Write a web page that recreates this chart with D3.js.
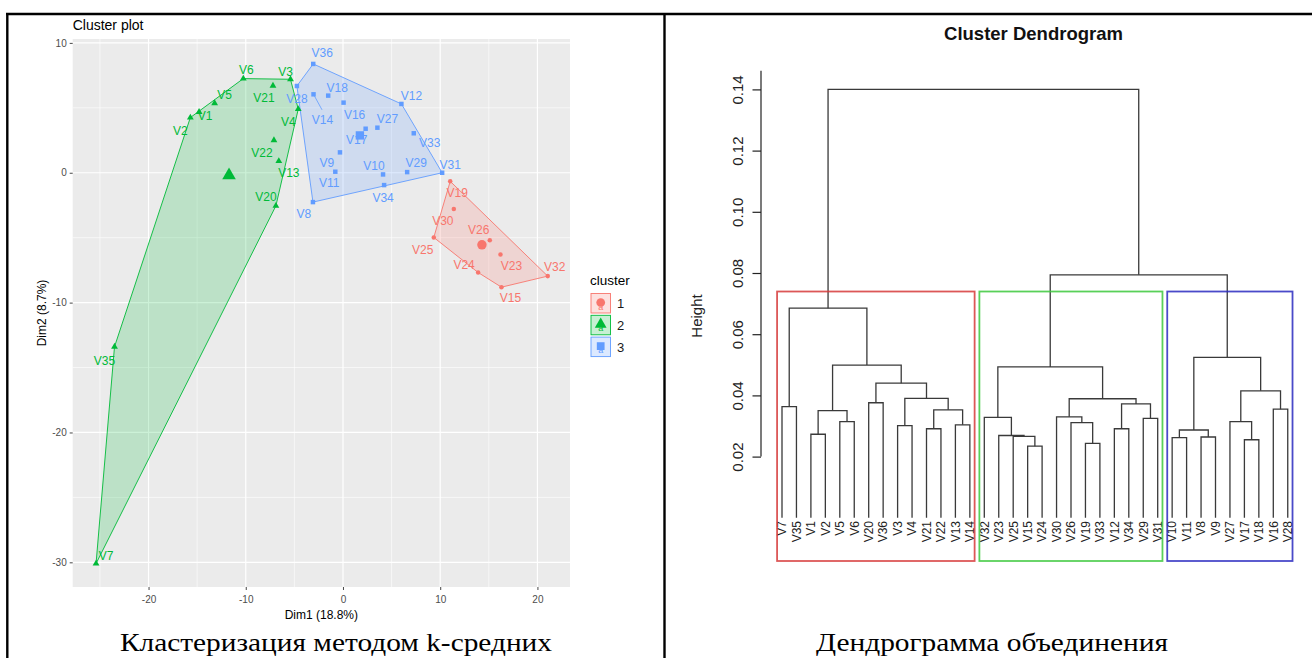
<!DOCTYPE html>
<html><head><meta charset="utf-8">
<script src="https://cdn.jsdelivr.net/npm/d3@7"></script>
<style>body{margin:0;background:#fff}svg{display:block}</style>
</head><body>
<svg id="c" width="1312" height="658"></svg>
<script>
// ---------- k-means cluster plot data ----------
const pointNames = ["V1","V2","V3","V4","V5","V6","V7","V8","V9","V10","V11","V12","V13","V14","V15","V16","V17","V18",
  "V19","V20","V21","V22","V23","V24","V25","V26","V27","V28","V29","V30","V31","V32","V33","V34","V35","V36"];
const pointDim1 = [-14.8,-15.7,-5.4,-4.6,-13.2,-10.25,-25.4,-3.09,-0.31,4.12,-0.79,6.01,-6.6,-3.03,16.3,0.06,2.33,-1.52,
  11.03,-6.9,-7.2,-7.1,16.2,13.9,9.34,15.1,3.54,-4.74,6.6,11.4,10.2,21.06,7.28,4.23,-23.5,-3.06];
const pointDim2 = [4.68,4.25,7.2,4.9,5.35,7.25,-30.1,-2.26,1.57,-0.13,0.08,5.3,0.9,6.04,-8.81,5.4,3.39,5.94,
  -0.66,-2.55,6.7,2.5,-6.3,-7.68,-4.98,-5.19,3.47,6.68,0.05,-2.8,0.0,-7.96,3.04,-0.95,-13.4,8.38];
const pointCluster = [2,2,2,2,2,2,2,3,3,3,3,3,2,3,1,3,3,3,1,2,2,2,1,1,1,1,3,3,3,1,3,1,3,3,2,3];
const clusterIds = [1,2,3];
const clusterColors = ["#F8766D","#00BA38","#619CFF"];
const dim1Ticks = [-20,-10,0,10,20];
const dim1Minor = [-25,-15,-5,5,15];
const dim2Ticks = [-30,-20,-10,0,10];
const dim2Minor = [-25,-15,-5,5];
// label offsets (px) used to mimic the repelled labels
const labelNudge = {V6:[3,-9],V3:[-5,-8],V21:[-9,12],V5:[10,-9],V1:[6,4],V2:[-10,13],V4:[-10,13],V22:[-12,12],V13:[10,12],
  V20:[-10,-9],V35:[-10,14],V7:[10,-8],V36:[9,-11],V28:[0,13],V14:[9,25],V18:[9,-8],V16:[11,12],V27:[10,-9],V17:[-9,11],
  V12:[10,-8],V33:[16,9],V9:[-13,10],V11:[-6,11],V10:[-9,-9],V29:[9,-9],V31:[8,-8],V34:[-1,13],V8:[-9,12],
  V19:[7,11],V30:[-11,12],V25:[-11,12],V26:[-11,-10],V24:[-14,-8],V23:[11,11],V32:[7,-9],V15:[9,11]};

// ---------- dendrogram data ----------
const leafOrder = ["V7","V35","V1","V2","V5","V6","V20","V36","V3","V4","V21","V22","V13","V14",
  "V32","V23","V25","V15","V24","V30","V26","V19","V33","V12","V34","V29","V31",
  "V10","V11","V8","V9","V27","V17","V18","V16","V28"];
// merge children: leaf name or index of an earlier merge
const mergeLeft  = ["V7","V1","V5",1,"V20","V3","V21","V13",6,5,4,3,0,"V15","V25","V23","V32","V19","V26","V30","V12","V29",20,19,16,"V10","V8",25,"V17","V27","V16",29,27,24,12];
const mergeRight = ["V35","V2","V6",2,"V36","V4","V22","V14",7,8,9,10,11,"V24",13,14,15,"V33",17,18,"V34","V31",21,22,23,"V11","V9",26,"V18",28,"V28",30,31,32,33];
const mergeHeight = [0.0363,0.0273,0.0314,0.0350,0.0376,0.0301,0.0291,0.0304,0.0353,0.0390,0.0440,0.0499,0.0685,
  0.0234,0.0266,0.0269,0.0328,0.0243,0.0311,0.0330,0.0291,0.0325,0.0372,0.0389,0.0493,
  0.0262,0.0264,0.0287,0.0255,0.0314,0.0355,0.0415,0.0524,0.0794,0.1400];
const heightTicks = [0.02,0.04,0.06,0.08,0.10,0.12,0.14];
const kClusters = 3;
const rectColors = ["#D63A3A","#3CC83C","#2A2AC0"];

const svg = d3.select("#c");

// ---------- table frame ----------
svg.append("line").attr("x1",6).attr("x2",1312).attr("y1",14).attr("y2",14).attr("stroke","#000").attr("stroke-width",2.4);
svg.append("line").attr("x1",7.3).attr("x2",7.3).attr("y1",13).attr("y2",658).attr("stroke","#000").attr("stroke-width",2.4);
svg.append("line").attr("x1",664.5).attr("x2",664.5).attr("y1",13).attr("y2",658).attr("stroke","#000").attr("stroke-width",2.4);

// ---------- left: cluster plot ----------
const P = {l:72.7, r:570, t:39, b:587};
const x = d3.scaleLinear().domain([-27.8,23.35]).range([P.l,P.r]);
const y = d3.scaleLinear().domain([-31.9,10.3]).range([P.b,P.t]);
const L = svg.append("g");
L.append("rect").attr("x",P.l).attr("y",P.t).attr("width",P.r-P.l).attr("height",P.b-P.t).attr("fill","#EBEBEB");
dim1Minor.forEach(v=>L.append("line").attr("x1",x(v)).attr("x2",x(v)).attr("y1",P.t).attr("y2",P.b).attr("stroke","#fff").attr("stroke-width",0.6));
dim2Minor.forEach(v=>L.append("line").attr("y1",y(v)).attr("y2",y(v)).attr("x1",P.l).attr("x2",P.r).attr("stroke","#fff").attr("stroke-width",0.6));
dim1Ticks.forEach(v=>L.append("line").attr("x1",x(v)).attr("x2",x(v)).attr("y1",P.t).attr("y2",P.b).attr("stroke","#fff").attr("stroke-width",1.2));
dim2Ticks.forEach(v=>L.append("line").attr("y1",y(v)).attr("y2",y(v)).attr("x1",P.l).attr("x2",P.r).attr("stroke","#fff").attr("stroke-width",1.2));

const xAxis = d3.axisBottom(x).tickValues(dim1Ticks).tickSize(3).tickPadding(6).tickFormat(d3.format("d"));
const gx = L.append("g").attr("transform",`translate(0,${P.b})`).call(xAxis);
const yAxis = d3.axisLeft(y).tickValues(dim2Ticks).tickSize(3).tickPadding(3).tickFormat(d3.format("d"));
const gy = L.append("g").attr("transform",`translate(${P.l},0)`).call(yAxis);
[gx,gy].forEach(g=>{g.select(".domain").remove();
  g.selectAll(".tick line").attr("stroke","#333").attr("stroke-width",0.9);
  g.selectAll(".tick text").attr("fill","#4D4D4D").style("font-family","Liberation Sans, Arial").style("font-size","10px");});
gx.selectAll(".tick text").text(d=>d<0?"-"+Math.abs(d):d);
gy.selectAll(".tick text").text(d=>d<0?"-"+Math.abs(d):d);

L.append("text").attr("x",P.l).attr("y",30).text("Cluster plot").style("font-family","Liberation Sans, Arial").style("font-size","14px").attr("fill","#000");
L.append("text").attr("x",(P.l+P.r)/2).attr("y",619).attr("text-anchor","middle").text("Dim1 (18.8%)")
  .style("font-family","Liberation Sans, Arial").style("font-size","12px").attr("fill","#000");
L.append("text").attr("transform",`translate(46,${(P.t+P.b)/2}) rotate(-90)`).attr("text-anchor","middle").text("Dim2 (8.7%)")
  .style("font-family","Liberation Sans, Arial").style("font-size","12px").attr("fill","#000");

const pts = pointNames.map((n,i)=>({name:n,d1:pointDim1[i],d2:pointDim2[i],c:pointCluster[i]}));
const shapes = [d3.symbolCircle,d3.symbolTriangle,d3.symbolSquare];
const smallSize = [16,20,20], bigSize=[70,80,70];
const color = c=>clusterColors[clusterIds.indexOf(c)];

clusterIds.forEach((c,ci)=>{
  const cp = pts.filter(p=>p.c===c);
  const hull = d3.polygonHull(cp.map(p=>[x(p.d1),y(p.d2)]));
  L.append("path").attr("d","M"+hull.join("L")+"Z").attr("fill",clusterColors[ci]).attr("fill-opacity",0.2)
    .attr("stroke",clusterColors[ci]).attr("stroke-width",0.9);
});
// V14 repel segment
const p14 = pts.find(p=>p.name==="V14");
L.append("line").attr("x1",x(p14.d1)).attr("y1",y(p14.d2)).attr("x2",x(p14.d1)+8.5).attr("y2",y(p14.d2)+15.5)
  .attr("stroke",color(3)).attr("stroke-width",0.8);
pts.forEach(p=>{
  const ci = clusterIds.indexOf(p.c);
  L.append("path").attr("d",d3.symbol(shapes[ci],smallSize[ci])()).attr("transform",`translate(${x(p.d1)},${y(p.d2)})`).attr("fill",clusterColors[ci]);
});
clusterIds.forEach((c,ci)=>{
  const cp = pts.filter(p=>p.c===c);
  const mx = d3.mean(cp,p=>p.d1), my = d3.mean(cp,p=>p.d2);
  L.append("path").attr("d",d3.symbol(shapes[ci],bigSize[ci])()).attr("transform",`translate(${x(mx)},${y(my)})`).attr("fill",clusterColors[ci]);
});
pts.forEach(p=>{
  const o = labelNudge[p.name]||[0,-8];
  L.append("text").attr("x",x(p.d1)+o[0]).attr("y",y(p.d2)+o[1]).attr("dy","0.36em").attr("text-anchor","middle")
    .text(p.name).attr("fill",color(p.c)).style("font-family","Liberation Sans, Arial").style("font-size","12px");
});
// legend
L.append("text").attr("x",590).attr("y",285).text("cluster").style("font-family","Liberation Sans, Arial").style("font-size","13.5px").attr("fill","#000");
clusterIds.forEach((c,ci)=>{
  const ky = 293.5 + ci*21.8;
  L.append("rect").attr("x",591).attr("y",ky).attr("width",19.5).attr("height",19.5).attr("fill",clusterColors[ci]).attr("fill-opacity",0.22)
    .attr("stroke",clusterColors[ci]).attr("stroke-width",0.9);
  L.append("text").attr("x",600.7).attr("y",ky+16).attr("text-anchor","middle").text("a").attr("fill",clusterColors[ci])
    .style("font-family","Liberation Sans, Arial").style("font-size","9px");
  L.append("path").attr("d",d3.symbol(shapes[ci],60)()).attr("transform",`translate(600.7,${ky+9})`).attr("fill",clusterColors[ci]);
  L.append("text").attr("x",617).attr("y",ky+14.5).text(c).style("font-family","Liberation Sans, Arial").style("font-size","13px").attr("fill","#1a1a1a");
});

// ---------- right: dendrogram ----------
const R = svg.append("g");
const xs = d3.scalePoint().domain(leafOrder).range([782,1287.75]);
const ys = d3.scaleLinear().domain([0,0.14]).range([517.8,89.4]);
const nodeX = [], nodeH = mergeHeight;
const cx = c => typeof c === "string" ? xs(c) : nodeX[c];
const ch = c => typeof c === "string" ? 0 : nodeH[c];
mergeHeight.forEach((h,i)=>{
  const a = mergeLeft[i], b = mergeRight[i];
  const xa = cx(a), xb = cx(b);
  nodeX[i] = (xa+xb)/2;
  R.append("path").attr("d",`M${xa},${ys(ch(a))}V${ys(h)}H${xb}V${ys(ch(b))}`)
    .attr("fill","none").attr("stroke","#3a3a3a").attr("stroke-width",1.3);
});
// leaf labels
leafOrder.forEach(n=>{
  R.append("text").attr("transform",`translate(${xs(n)},521) rotate(-90)`).attr("text-anchor","end").attr("dy","0.36em")
    .text(n).style("font-family","Liberation Sans, Arial").style("font-size","12px").attr("fill","#222");
});
// y axis
R.append("line").attr("x1",761).attr("x2",761).attr("y1",70.7).attr("y2",ys(0.02)).attr("stroke","#222").attr("stroke-width",1.2);
const yAx = d3.axisLeft(ys).tickValues(heightTicks).tickSize(8.5).tickFormat(d3.format(".2f"));
const gya = R.append("g").attr("transform","translate(761,0)").call(yAx);
gya.select(".domain").remove();
gya.selectAll(".tick line").attr("stroke","#222").attr("stroke-width",1.2);
gya.selectAll(".tick text").attr("x",0).attr("dy",0).attr("text-anchor","middle")
  .attr("transform","translate(-23,0) rotate(-90)").attr("dy","0.36em")
  .attr("fill","#222").style("font-family","Liberation Sans, Arial").style("font-size","15px");
R.append("text").attr("transform","translate(697,316) rotate(-90)").attr("text-anchor","middle").attr("dy","0.36em")
  .text("Height").style("font-family","Liberation Sans, Arial").style("font-size","15px").attr("fill","#222");
R.append("text").attr("x",1033.5).attr("y",40).attr("text-anchor","middle").text("Cluster Dendrogram")
  .style("font-family","Liberation Sans, Arial").style("font-weight","bold").style("font-size","18.5px").attr("fill","#111");

// rect.hclust boxes (k = 3)
const sortedH = mergeHeight.slice().sort((a,b)=>b-a);
const topSet = new Set(sortedH.slice(0,kClusters-1).map(h=>mergeHeight.indexOf(h)));
const groups = [];
topSet.forEach(i=>[mergeLeft[i],mergeRight[i]].forEach(c=>{ if(typeof c==="string"||!topSet.has(c)) groups.push(c);}));
function leavesOf(c){ return typeof c==="string"?[c]:leavesOf(mergeLeft[c]).concat(leavesOf(mergeRight[c])); }
const spans = groups.map(g=>{const lv=leavesOf(g).map(n=>xs(n)); return [d3.min(lv),d3.max(lv)];}).sort((a,b)=>a[0]-b[0]);
const boxTop = ys((sortedH[kClusters-2]+sortedH[kClusters-1])/2);
const stp = xs.step();
spans.forEach((s,i)=>{
  R.append("rect").attr("x",s[0]-0.34*stp).attr("y",boxTop).attr("width",(s[1]+0.33*stp)-(s[0]-0.34*stp)).attr("height",561-boxTop)
    .attr("fill","none").attr("stroke",rectColors[i]).attr("stroke-width",1.8).attr("stroke-opacity",0.85);
});

// ---------- captions ----------
svg.append("text").attr("x",336).attr("y",651).attr("text-anchor","middle").text("Кластеризация методом k-средних")
  .style("font-family","Liberation Serif, Times New Roman").style("font-size","26px").attr("fill","#000")
  .attr("textLength",432).attr("lengthAdjust","spacingAndGlyphs");
svg.append("text").attr("x",992).attr("y",651).attr("text-anchor","middle").text("Дендрограмма объединения")
  .style("font-family","Liberation Serif, Times New Roman").style("font-size","26px").attr("fill","#000")
  .attr("textLength",352).attr("lengthAdjust","spacingAndGlyphs");
</script>
</body></html>
